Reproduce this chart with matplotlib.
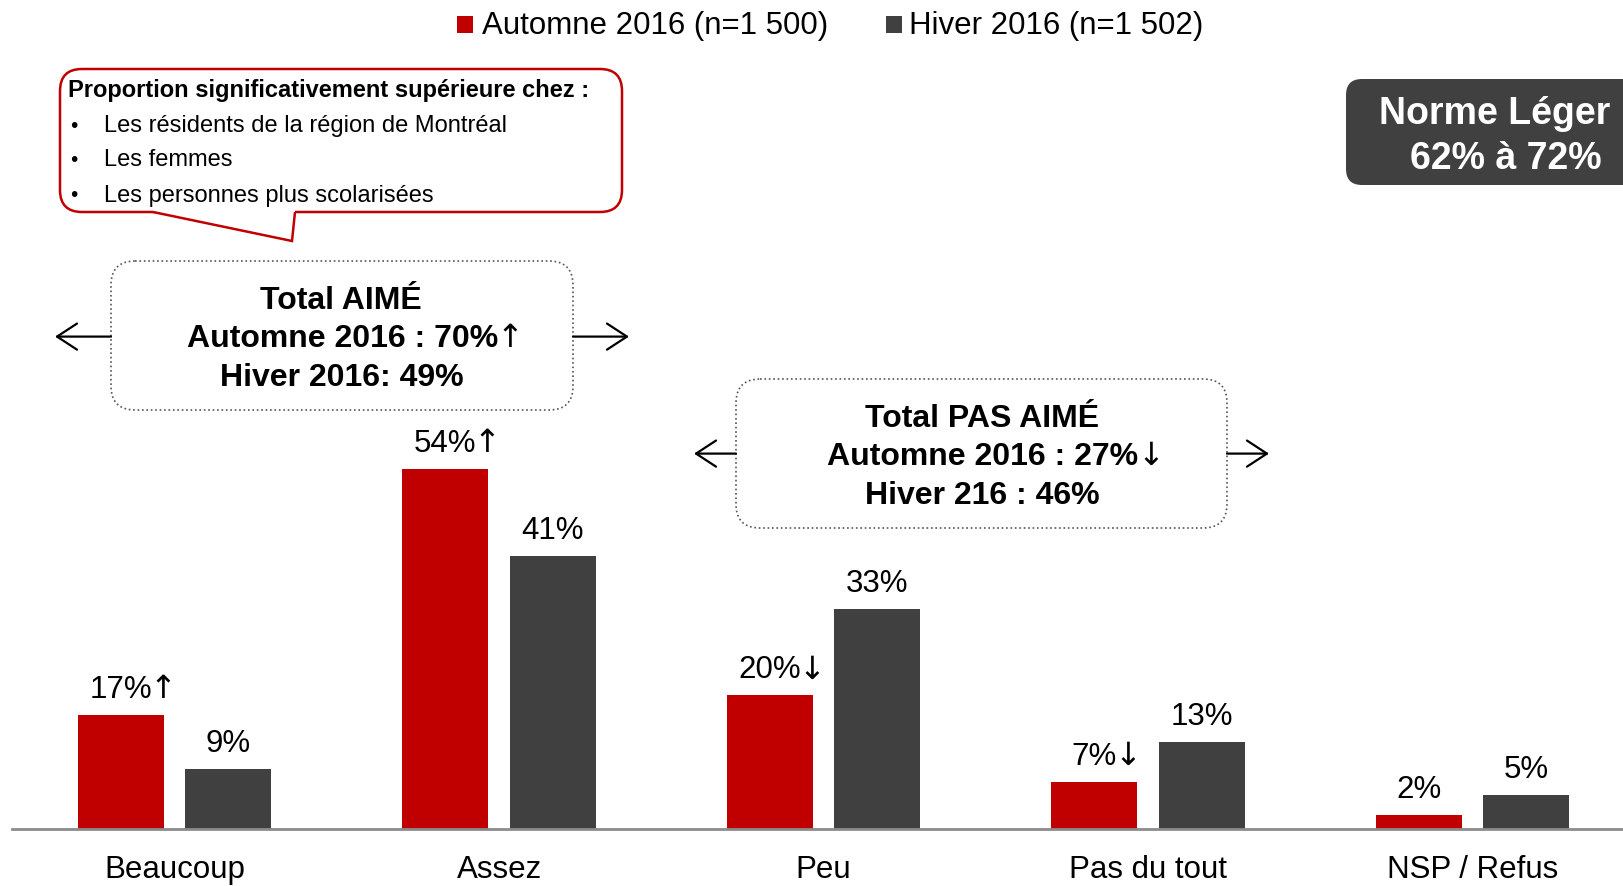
# ==========================================================
# Appréciation - Automne 2016 vs Hiver 2016
# ==========================================================

import numpy as np
import matplotlib
matplotlib.use("Agg")
import matplotlib.pyplot as plt
from matplotlib.patches import FancyBboxPatch, Polygon, Rectangle, FancyArrowPatch
from matplotlib.transforms import Affine2D


# ==========================================================
# Data
# ==========================================================

categories = ["Beaucoup", "Assez", "Peu", "Pas du tout", "NSP / Refus"]
automne = [17, 54, 20, 7, 2]
hiver = [9, 41, 33, 13, 5]
automne_sig = ["↑", "↑", "↓", "↓", ""]
hiver_sig = ["", "", "", "", ""]

series_names = ["Automne 2016 (n=1 500)", "Hiver 2016 (n=1 502)"]

bubble_title = "Proportion significativement supérieure chez :"
bubble_items = [
    "Les résidents de la région de Montréal",
    "Les femmes",
    "Les personnes plus scolarisées",
]
aime_lines = ["Total AIMÉ", "Automne 2016 : 70%", "Hiver 2016: 49%"]
aime_sig = ["", "↑", ""]
pas_aime_lines = ["Total PAS AIMÉ", "Automne 2016 : 27%", "Hiver 216 : 46%"]
pas_aime_sig = ["", "↓", ""]
norme_lines = ["Norme Léger :", "62% à 72%"]

RED = "#C00000"
GREY = "#404040"
ARROW_FONT = ["DejaVu Sans"]


# ==========================================================
# Figure
# ==========================================================

plt.rcParams["font.family"] = ["Liberation Sans", "DejaVu Sans"]

W, H = 1624, 886
fig = plt.figure(figsize=(W / 100, H / 100), dpi=100)

# pixel coordinates, origin at top-left
PX = Affine2D().scale(0.01, -0.01).translate(0, H / 100) + fig.dpi_scale_trans

ax = fig.add_axes([12 / W, 57.4 / H, 1 - 12 / W, 1 - 57.4 / H])
ax.patch.set_alpha(0)

x = np.arange(len(categories))
bw = 0.265
off = 0.166

ax.bar(x - off, automne, bw, color=RED)
ax.bar(x + off, hiver, bw, color=GREY)

ax.set_xlim(-0.5008, 4.4668)
ax.set_ylim(0, 124.4)
ax.set_xticks([])
ax.set_yticks([])
for s in ["top", "right", "left"]:
    ax.spines[s].set_visible(False)
ax.spines["bottom"].set_color("#8c8c8c")
ax.spines["bottom"].set_linewidth(2)

# value labels
for i in range(len(categories)):
    for xs, v, sig in ((x[i] - off, automne[i], automne_sig[i]),
                       (x[i] + off, hiver[i], hiver_sig[i])):
        t = ax.annotate(f"{v}%", (xs, v), xytext=(0, 12.2),
                        textcoords="offset points", ha="center",
                        va="baseline", fontsize=22.5)
        if sig:
            ax.annotate(sig, xy=(1, 0), xycoords=t, xytext=(-2, 0),
                        textcoords="offset points", ha="left",
                        va="bottom", fontsize=23, family=ARROW_FONT)

# category labels
for i, c in enumerate(categories):
    ax.annotate(c, (x[i], 0), xytext=(0, -35.6), textcoords="offset points",
                ha="center", va="baseline", fontsize=22.5,
                annotation_clip=False)


# ==========================================================
# Legend
# ==========================================================

for sq_x, tx, col, name in ((456.8, 481.6, RED, series_names[0]),
                            (885.5, 909, GREY, series_names[1])):
    fig.add_artist(Rectangle((sq_x, 16), 16.6, 16.6, transform=PX,
                             color=col, lw=0))
    fig.text(tx, 26, name, transform=PX, ha="left", va="center",
             fontsize=22.5)


# ==========================================================
# Speech bubble
# ==========================================================

fig.add_artist(FancyBboxPatch((60, 69), 562, 143,
                              boxstyle="round,pad=0,rounding_size=22",
                              transform=PX, fc="white", ec=RED, lw=1.8))
fig.add_artist(Polygon([(153, 207), (153, 212), (292, 241), (295, 212),
                        (295, 207)], closed=True, transform=PX,
                       fc="white", ec="none"))
fig.add_artist(Polygon([(153, 212), (292, 241), (295, 212)], closed=False,
                       fill=False, transform=PX, ec=RED, lw=1.8))

fig.text(68, 91, bubble_title, transform=PX, ha="left", va="center",
         fontsize=17, fontweight="bold")
for yy, item in zip([126, 160.5, 195.7], bubble_items):
    fig.text(70, yy, "•", transform=PX, ha="left", va="center", fontsize=15)
    fig.text(103.6, yy, item, transform=PX, ha="left", va="center",
             fontsize=17)


# ==========================================================
# Total boxes
# ==========================================================

def total_box(x0, y0, w, h, lines, sigs, centers, ys, left_tip, right_tip, ay):
    fig.add_artist(FancyBboxPatch((x0, y0), w, h,
                                  boxstyle="round,pad=0,rounding_size=24",
                                  transform=PX, fc="none", ec="#555555",
                                  lw=1.2, ls=":"))
    for txt, sig, cx, cy in zip(lines, sigs, centers, ys):
        if sig:
            cx -= 12
        t = fig.text(cx, cy, txt, transform=PX, ha="center", va="center",
                     fontsize=23, fontweight="bold")
        if sig:
            fig.add_artist(plt.Annotation(sig, xy=(1, 0), xycoords=t,
                                          xytext=(-1, 0),
                                          textcoords="offset points",
                                          ha="left", va="bottom",
                                          fontsize=23, family=ARROW_FONT))
    for start, tip in ((x0, left_tip), (x0 + w, right_tip)):
        fig.add_artist(FancyArrowPatch((start, ay), (tip, ay),
                                       arrowstyle="->,head_length=0.72,head_width=0.47",
                                       mutation_scale=20, lw=1.6,
                                       color="black", shrinkA=0, shrinkB=0,
                                       transform=PX))


total_box(111, 261, 462, 149, aime_lines, aime_sig, [341, 354.7, 341.8],
          [301, 339, 377.5], 55, 629, 336.6)
total_box(736, 379, 491, 149, pas_aime_lines, pas_aime_sig, [981.8, 995, 982],
          [419, 457, 496.5], 694, 1269, 453.6)


# ==========================================================
# Norme Léger
# ==========================================================

fig.add_artist(FancyBboxPatch((1346, 79), 420, 106,
                              boxstyle="round,pad=0,rounding_size=16",
                              transform=PX, fc=GREY, ec="none"))
for yy, txt in zip([114, 159], norme_lines):
    fig.text(1506, yy, txt, transform=PX, ha="center", va="center",
             fontsize=27, fontweight="bold", color="white")


fig.savefig("out.png", dpi=100)
